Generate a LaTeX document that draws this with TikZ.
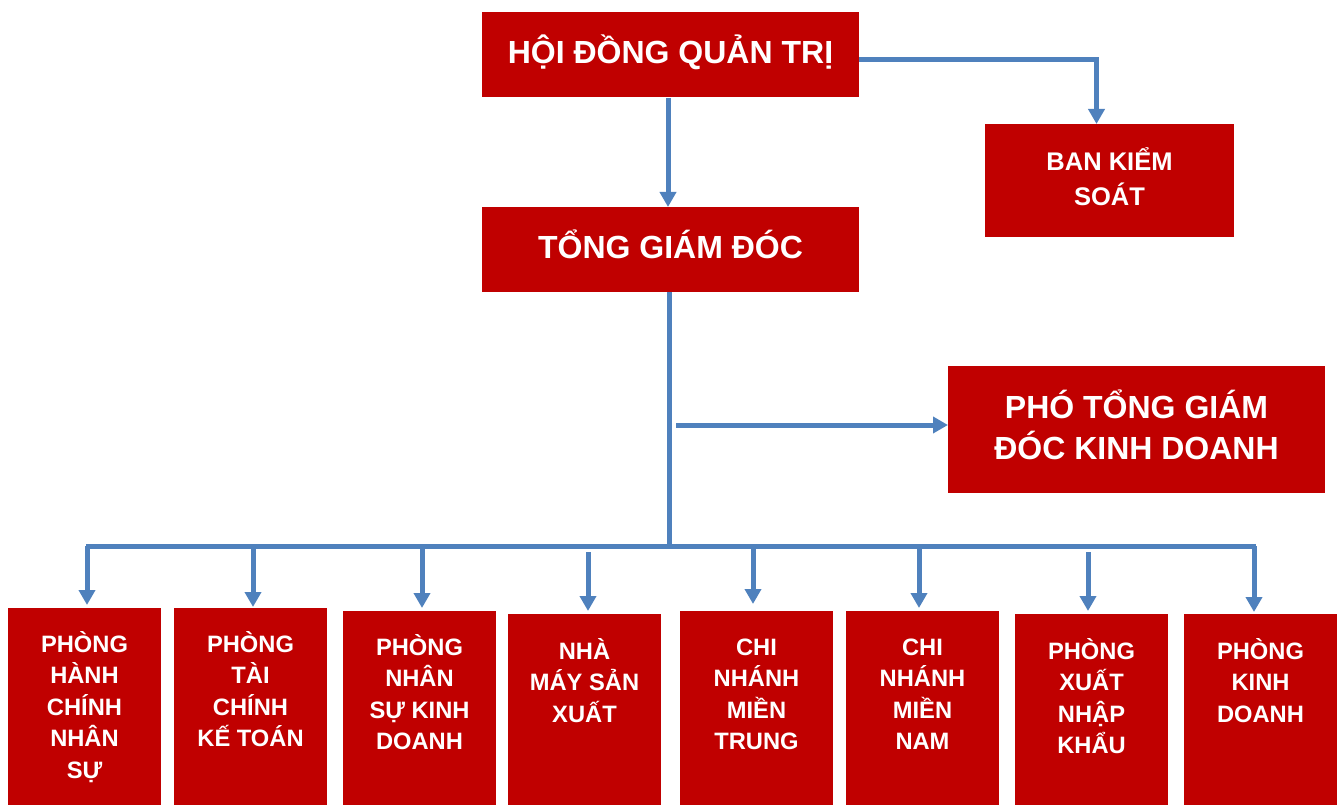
\documentclass[tikz,border=0pt]{standalone}
\usepackage{fontspec}
\setmainfont{Liberation Sans}
\usetikzlibrary{arrows.meta}
\definecolor{boxred}{HTML}{C00000}
\definecolor{linkblue}{HTML}{4F81BD}
\begin{document}
\begin{tikzpicture}[x=1pt,y=-1pt,
  box/.style={fill=boxred, draw=none, inner sep=0pt, outer sep=0pt, anchor=north west},
  lbl/.style={text=white, inner sep=0pt, anchor=base, font=\bfseries},
  big/.style={lbl, font=\bfseries\fontsize{32}{41}\selectfont},
  mid/.style={lbl, font=\bfseries\fontsize{25.5}{35}\selectfont},
  small/.style={lbl, font=\bfseries\fontsize{23.7}{31.5}\selectfont},
  link/.style={draw=linkblue, line width=5pt},
  arr/.style={link, -{Triangle[width=16pt,length=15pt]}}]
\useasboundingbox (0,0) rectangle (1338,805);
% top boxes
\node[box, minimum width=377pt, minimum height=85pt] (hdqt) at (482,12) {};
\node[big] (thdqt) at ([yshift=-51.3pt]hdqt.north) {HỘI ĐỒNG QUẢN TRỊ};
\node[box, minimum width=377pt, minimum height=85pt] (tgd) at (482,207) {};
\node[big] (ttgd) at ([yshift=-51pt]tgd.north) {TỔNG GIÁM ĐÓC};
\node[box, minimum width=249pt, minimum height=113pt] (bks) at (985,124) {};
\node[mid] (tbks) at ([yshift=-47pt]bks.north) {\begin{tabular}[t]{@{}c@{}}BAN KIỂM\\SOÁT\end{tabular}};
\node[box, minimum width=377pt, minimum height=127pt] (ptgd) at (948,366) {};
\node[big] (tptgd) at ([yshift=-52.5pt]ptgd.north) {\begin{tabular}[t]{@{}c@{}}PHÓ TỔNG GIÁM\\ĐÓC KINH DOANH\end{tabular}};
% bottom boxes
\node[box, minimum width=153pt, minimum height=197pt] (b1) at (8,608) {};
\node[box, minimum width=153pt, minimum height=197pt] (b2) at (174,608) {};
\node[box, minimum width=153pt, minimum height=194pt] (b3) at (343,611) {};
\node[box, minimum width=153pt, minimum height=191pt] (b4) at (508,614) {};
\node[box, minimum width=153pt, minimum height=194pt] (b5) at (680,611) {};
\node[box, minimum width=153pt, minimum height=194pt] (b6) at (846,611) {};
\node[box, minimum width=153pt, minimum height=191pt] (b7) at (1015,614) {};
\node[box, minimum width=153pt, minimum height=191pt] (b8) at (1184,614) {};
\node[small] (t1) at ([yshift=-44pt]b1.north) {\begin{tabular}[t]{@{}c@{}}PHÒNG\\HÀNH\\CHÍNH\\NHÂN\\SỰ\end{tabular}};
\node[small] (t2) at ([yshift=-44pt]b2.north) {\begin{tabular}[t]{@{}c@{}}PHÒNG\\TÀI\\CHÍNH\\KẾ TOÁN\end{tabular}};
\node[small] (t3) at ([yshift=-44pt]b3.north) {\begin{tabular}[t]{@{}c@{}}PHÒNG\\NHÂN\\SỰ KINH\\DOANH\end{tabular}};
\node[small] (t4) at ([yshift=-45pt]b4.north) {\begin{tabular}[t]{@{}c@{}}NHÀ\\MÁY SẢN\\XUẤT\end{tabular}};
\node[small] (t5) at ([yshift=-44pt]b5.north) {\begin{tabular}[t]{@{}c@{}}CHI\\NHÁNH\\MIỀN\\TRUNG\end{tabular}};
\node[small] (t6) at ([yshift=-44pt]b6.north) {\begin{tabular}[t]{@{}c@{}}CHI\\NHÁNH\\MIỀN\\NAM\end{tabular}};
\node[small] (t7) at ([yshift=-45pt]b7.north) {\begin{tabular}[t]{@{}c@{}}PHÒNG\\XUẤT\\NHẬP\\KHẨU\end{tabular}};
\node[small] (t8) at ([yshift=-45pt]b8.north) {\begin{tabular}[t]{@{}c@{}}PHÒNG\\KINH\\DOANH\end{tabular}};
% coordinates
\coordinate (c1) at (668,98);
\coordinate (kcorner) at (1099,60);
\coordinate (busmid) at (669,546);
\coordinate (busL) at (86,546);
\coordinate (busR) at (1256,546);
\coordinate (pstart) at (676,425);
\coordinate (d1) at (87,546);
\coordinate (d2) at (253,546);
\coordinate (d3) at (422,546);
\coordinate (d4) at (588,552);
\coordinate (d5) at (753,546);
\coordinate (d6) at (919,546);
\coordinate (d7) at (1088,552);
\coordinate (d8) at (1254,546);
% connectors
\draw[arr] (c1) -- (c1 |- tgd.north);
\draw[link] (hdqt.east |- kcorner) -- (kcorner);
\draw[arr] ([xshift=-2.5pt]kcorner) -- ([xshift=-2.5pt]kcorner |- bks.north);
\draw[link] (busmid |- tgd.south) -- ([yshift=-2.5pt]busmid);
\draw[arr] (pstart) -- (pstart -| ptgd.west);
\draw[link] (busL) -- (busR);
\draw[arr] (d1) -- ([yshift=3pt]d1 |- b1.north);
\draw[arr] (d2) -- ([yshift=1pt]d2 |- b2.north);
\draw[arr] (d3) -- ([yshift=3pt]d3 |- b3.north);
\draw[arr] (d4) -- ([yshift=3pt]d4 |- b4.north);
\draw[arr] (d5) -- ([yshift=7pt]d5 |- b5.north);
\draw[arr] (d6) -- ([yshift=3pt]d6 |- b6.north);
\draw[arr] (d7) -- ([yshift=3pt]d7 |- b7.north);
\draw[arr] (d8) -- ([yshift=2pt]d8 |- b8.north);
\end{tikzpicture}
\end{document}
